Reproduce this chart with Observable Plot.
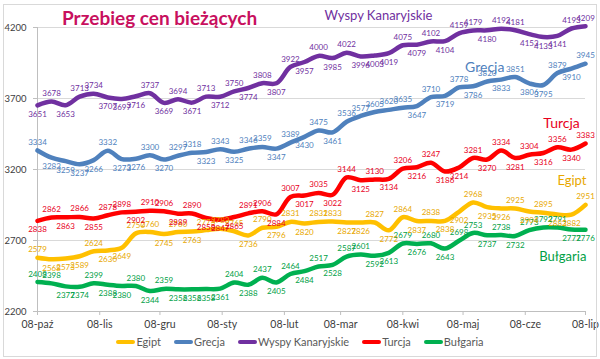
<!DOCTYPE html>
<html><head><meta charset="utf-8">
<script src="https://cdn.jsdelivr.net/npm/d3@7"></script>
<script src="https://cdn.jsdelivr.net/npm/@observablehq/plot@0.6"></script>
<style>
body{margin:0;background:#fff;font-family:Lato,"Open Sans",sans-serif;}
#wrap{position:relative;width:600px;height:359px;overflow:hidden;background:#fff;}
#frame{position:absolute;left:3px;top:4px;width:594px;height:353px;border:1px solid #d9d9d9;box-sizing:border-box;pointer-events:none;}
#chart{position:absolute;left:0;top:0;}
#title{position:absolute;left:62px;top:6px;font-family:Lato,sans-serif;font-weight:bold;font-size:19px;color:#c8105e;white-space:nowrap;}
#legend{position:absolute;left:0;top:335px;width:600px;display:flex;justify-content:center;align-items:center;gap:13px;font-family:Lato,sans-serif;font-size:11px;color:#595959;}
#legend .it{display:flex;align-items:center;}
#legend .sw{display:inline-block;width:19px;height:4px;border-radius:2px;margin-right:1px;}
</style>
</head><body>
<div id="wrap">
  <div id="chart"></div>
  <div id="title">Przebieg cen bieżących</div>
  <div id="legend"></div>
  <div id="frame"></div>
</div>
<script>
// ---- data ----
const seriesNames = ["Egipt", "Grecja", "Wyspy Kanaryjskie", "Turcja", "Bułgaria"];
const lineColors = ["#ffc000", "#4f81bd", "#7030a0", "#ff0000", "#00b050"];
const textColors = ["#e8a800", "#4f81bd", "#7030a0", "#e8001c", "#00a045"];

const firstWeek = "2018-10-08";
const lastWeek = "2019-07-08";

const egipt = [2579, 2568, 2573, 2589, 2624, 2630, 2649, 2750, 2760, 2745,
  2760, 2763, 2773, 2783, 2765, 2736, 2790, 2796, 2831, 2820,
  2831, 2833, 2827, 2826, 2827, 2772, 2864, 2837, 2838, 2838,
  2902, 2968, 2935, 2926, 2925, 2904, 2895, 2883, 2882, 2951];
const grecja = [3334, 3283, 3259, 3237, 3266, 3332, 3273, 3276, 3300, 3270,
  3297, 3318, 3323, 3343, 3325, 3346, 3359, 3347, 3389, 3430,
  3475, 3461, 3536, 3577, 3605, 3620, 3635, 3647, 3710, 3719,
  3778, 3786, 3820, 3833, 3851, 3806, 3795, 3879, 3910, 3945];
const wyspy = [3651, 3678, 3653, 3713, 3734, 3707, 3697, 3716, 3737, 3669,
  3694, 3671, 3713, 3712, 3750, 3774, 3808, 3807, 3922, 3957,
  4000, 3985, 4022, 3996, 4003, 4019, 4075, 4079, 4102, 4104,
  4159, 4179, 4180, 4192, 4181, 4153, 4133, 4141, 4193, 4209];
const turcja = [2838, 2862, 2863, 2866, 2855, 2878, 2898, 2902, 2910, 2906,
  2889, 2890, 2858, 2847, 2865, 2891, 2906, 2884, 3007, 3017,
  3035, 3022, 3144, 3125, 3130, 3134, 3206, 3216, 3247, 3186,
  3214, 3281, 3270, 3334, 3281, 3304, 3316, 3356, 3340, 3383];
const bulgaria = [2408, 2398, 2377, 2374, 2399, 2388, 2380, 2380, 2344, 2359,
  2356, 2356, 2358, 2361, 2404, 2388, 2437, 2405, 2464, 2484,
  2517, 2528, 2587, 2601, 2592, 2613, 2679, 2676, 2680, 2643,
  2698, 2753, 2737, 2738, 2732, 2773, 2792, 2791, 2777, 2776];

const yTicks = [2200, 2700, 3200, 3700, 4200];
const xTickDates = ["2018-10-08", "2018-11-08", "2018-12-08", "2019-01-08", "2019-02-08",
  "2019-03-08", "2019-04-08", "2019-05-08", "2019-06-08", "2019-07-08"];
const xTickLabels = ["08-paź", "08-lis", "08-gru", "08-sty", "08-lut",
  "08-mar", "08-kwi", "08-maj", "08-cze", "08-lip"];

// in-chart series names, anchored in data space
const nameAnchors = [
  {name: "Wyspy Kanaryjskie", date: "2019-02-28", value: 4282, size: 13, weight: "normal"},
  {name: "Grecja", date: "2019-05-09", value: 3916, size: 14, weight: "normal"},
  {name: "Turcja", date: "2019-06-17", value: 3522, size: 14, weight: "bold"},
  {name: "Egipt", date: "2019-06-24", value: 3120, size: 13, weight: "normal"},
  {name: "Bułgaria", date: "2019-06-15", value: 2585, size: 13, weight: "bold"}
];

// ---- build ----
const valueLists = [egipt, grecja, wyspy, turcja, bulgaria];
const weeks = d3.utcMonday.range(new Date(firstWeek), d3.utcDay.offset(new Date(lastWeek), 1));
const rows = [];
valueLists.forEach((vals, si) => {
  vals.forEach((v, j) => {
    const prev = j > 0 ? vals[j - 1] : vals[j + 1];
    const next = j < vals.length - 1 ? vals[j + 1] : vals[j - 1];
    rows.push({series: seriesNames[si], date: weeks[j], value: v, above: v >= (prev + next) / 2});
  });
});
const colorOf = Object.fromEntries(seriesNames.map((s, i) => [s, lineColors[i]]));
const textColorOf = Object.fromEntries(seriesNames.map((s, i) => [s, textColors[i]]));

const chart = Plot.plot({
  width: 600,
  height: 335,
  marginLeft: 37,
  marginRight: 15,
  marginTop: 27,
  marginBottom: 24,
  style: {fontFamily: "Lato, sans-serif", background: "transparent"},
  x: {type: "utc", domain: [new Date(firstWeek), new Date(lastWeek)], label: null},
  y: {domain: [2200, 4200], label: null},
  marks: [
    Plot.gridY(yTicks, {stroke: "#d9d9d9", strokeOpacity: 1}),
    Plot.ruleX([new Date(firstWeek)], {stroke: "#bfbfbf"}),
    Plot.ruleY([2200], {stroke: "#bfbfbf"}),
    Plot.axisY(yTicks, {label: null, tickSize: 4, tickPadding: 7, fontSize: 9.5, stroke: "#bfbfbf", fill: "#404040", tickFormat: d => String(d)}),
    Plot.axisX(xTickDates.map(d => new Date(d)), {label: null, tickSize: 4, tickPadding: 5, fontSize: 10.5, stroke: "#bfbfbf", fill: "#404040",
      tickFormat: (d, i) => xTickLabels[i]}),
    Plot.line(rows, {x: "date", y: "value", z: "series", stroke: d => colorOf[d.series], strokeWidth: 4.5,
      curve: "catmull-rom", strokeLinejoin: "round", strokeLinecap: "round"}),
    Plot.text(rows.filter(d => d.above), {x: "date", y: "value", text: d => String(d.value), fill: d => textColorOf[d.series],
      dy: -8, fontSize: 8}),
    Plot.text(rows.filter(d => !d.above), {x: "date", y: "value", text: d => String(d.value), fill: d => textColorOf[d.series],
      dy: 9, fontSize: 8}),
    Plot.text(nameAnchors, {x: d => new Date(d.date), y: "value", text: "name", textAnchor: "start",
      fill: d => textColorOf[d.name], fontSize: d => d.size, fontWeight: d => d.weight})
  ]
});
document.getElementById("chart").appendChild(chart);

// legend
const legend = document.getElementById("legend");
seriesNames.forEach((s, i) => {
  const it = document.createElement("span");
  it.className = "it";
  const sw = document.createElement("span");
  sw.className = "sw";
  sw.style.background = lineColors[i];
  it.appendChild(sw);
  it.appendChild(document.createTextNode(s));
  legend.appendChild(it);
});
</script>
</body></html>
